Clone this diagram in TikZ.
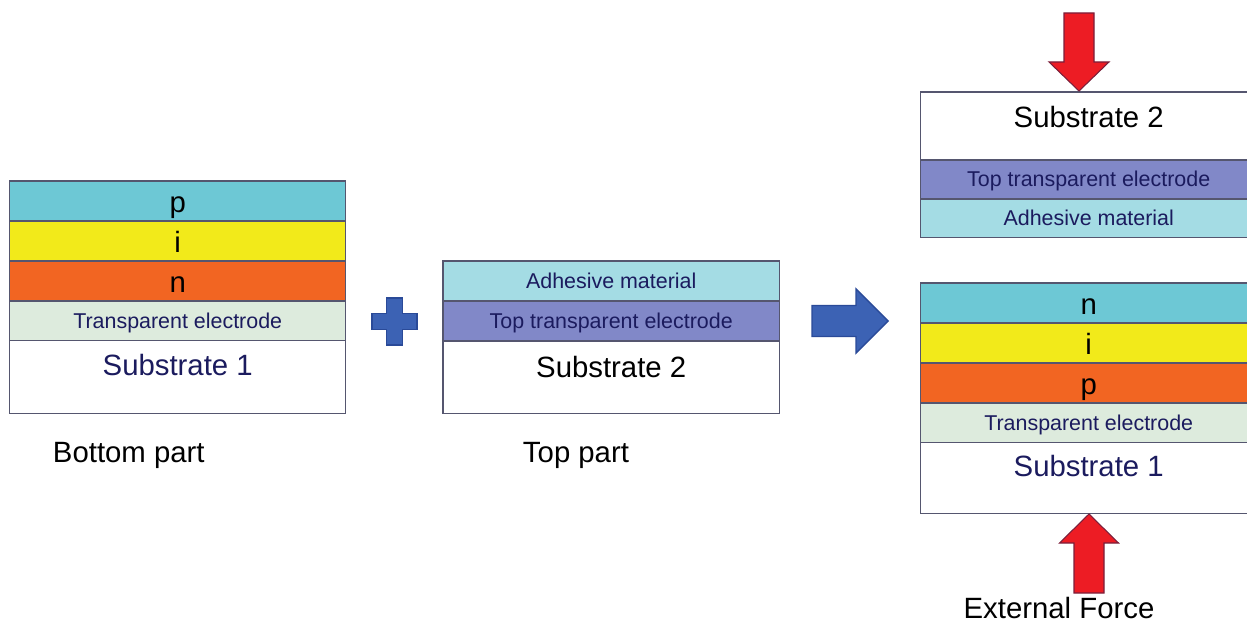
\documentclass[tikz,border=0pt]{standalone}
\usepackage{fontspec}
\setmainfont{Liberation Sans}
\usetikzlibrary{positioning}

\definecolor{pcyan}{HTML}{6DC8D5}
\definecolor{iyellow}{HTML}{F2EA1A}
\definecolor{norange}{HTML}{F26522}
\definecolor{tegreen}{HTML}{DDEBDD}
\definecolor{adhcyan}{HTML}{A4DCE4}
\definecolor{tepurple}{HTML}{8188C8}
\definecolor{edgegrey}{HTML}{55566F}
\definecolor{navy}{HTML}{1B1B5E}
\definecolor{forcered}{HTML}{ED1C24}
\definecolor{forcedark}{HTML}{7A1F3A}
\definecolor{plusblue}{HTML}{3C62B4}
\definecolor{plusdark}{HTML}{2A4A98}

\tikzset{
  layer/.style={draw=edgegrey, line width=0.6pt, minimum width=6.73cm, minimum height=0.8cm,
    inner sep=0pt, outer sep=0pt, text height=0.47cm, text depth=0pt,
    font=\fontsize{16.7}{18}\selectfont},
  thin/.style={text=navy, text height=0.29cm, font=\fontsize{12.2}{14}\selectfont},
  substrate/.style={layer, fill=white, minimum height=#1},
  sublabel/.style={anchor=north, inner sep=0pt, font=\fontsize{16.7}{18}\selectfont},
  caption/.style={anchor=base, inner sep=0pt, font=\fontsize{16.7}{18}\selectfont},
  force/.style={fill=forcered, draw=forcedark, line width=0.6pt},
  blueshape/.style={fill=plusblue, draw=plusdark, line width=0.8pt},
}

\begin{document}
\begin{tikzpicture}[x=0.02cm, y=-0.02cm]
    \useasboundingbox (0,0) rectangle (1247,621);
    \clip (0,0) rectangle (1247,621);

    % Bottom part
    \node[layer, fill=pcyan, anchor=north west] (bp) at (9.5,181) {p};
    \node[layer, fill=iyellow, below=0pt of bp] (bi) {i};
    \node[layer, fill=norange, below=0pt of bi] (bn) {n};
    \node[layer, thin, fill=tegreen, below=0pt of bn] (bte) {Transparent electrode};
    \node[substrate=1.46cm, below=0pt of bte] (bsub) {};
    \node[sublabel, text=navy] (bsublab) at ([yshift=-0.25cm]bsub.north) {Substrate 1};
    \node[caption] (botcap) at (128.8,462.7) {Bottom part};

    % Plus sign
    \draw[blueshape] (386.5,298) -- (402.5,298) -- (402.5,313.5) -- (417,313.5)
        -- (417,329.5) -- (402.5,329.5) -- (402.5,345) -- (386.5,345)
        -- (386.5,329.5) -- (372,329.5) -- (372,313.5) -- (386.5,313.5) -- cycle;

    % Top part
    \node[layer, thin, fill=adhcyan, anchor=north west] (tadh) at (443,261) {Adhesive material};
    \node[layer, thin, fill=tepurple, below=0pt of tadh] (tte) {Top transparent electrode};
    \node[substrate=1.46cm, below=0pt of tte] (tsub) {};
    \node[sublabel] (tsublab) at ([yshift=-0.29cm]tsub.north) {Substrate 2};
    \node[caption] (topcap) at (576,462.5) {Top part};

    % Assembly arrow
    \coordinate (atip) at (888,321);
    \draw[blueshape] (atip) -- ++(-32,-32) -- ++(0,16.5) -- ++(-44,0) -- ++(0,31)
        -- ++(44,0) -- ++(0,16.5) -- cycle;

    % Assembled device: upper stack
    \node[substrate=1.36cm, anchor=north west] (rsub2) at (920.5,92) {};
    \node[sublabel] (rsub2lab) at ([yshift=-0.28cm]rsub2.north) {Substrate 2};
    \node[layer, thin, fill=tepurple, minimum height=0.78cm, below=0pt of rsub2] (rte2) {Top transparent electrode};
    \node[layer, thin, fill=adhcyan, minimum height=0.78cm, below=0pt of rte2] (radh) {Adhesive material};

    % Assembled device: lower stack
    \node[layer, fill=pcyan, anchor=north west] (rn) at (920.5,283) {n};
    \node[layer, fill=iyellow, below=0pt of rn] (ri) {i};
    \node[layer, fill=norange, below=0pt of ri] (rp) {p};
    \node[layer, thin, fill=tegreen, below=0pt of rp] (rte1) {Transparent electrode};
    \node[substrate=1.42cm, below=0pt of rte1] (rsub1) {};
    \node[sublabel, text=navy] (rsub1lab) at ([yshift=-0.24cm]rsub1.north) {Substrate 1};

    % External force
    \coordinate (ftop) at (1079,91);
    \draw[force] (ftop) -- ++(30,-29) -- ++(-15,0) -- ++(0,-49) -- ++(-30,0)
        -- ++(0,49) -- ++(-15,0) -- cycle;
    \coordinate (fbot) at (1089,514);
    \draw[force] (fbot) -- ++(29.5,29) -- ++(-14.5,0) -- ++(0,50) -- ++(-30,0)
        -- ++(0,-50) -- ++(-14.5,0) -- cycle;
    \node[caption] (forcecap) at (1059,618) {External Force};

\end{tikzpicture}
\end{document}
